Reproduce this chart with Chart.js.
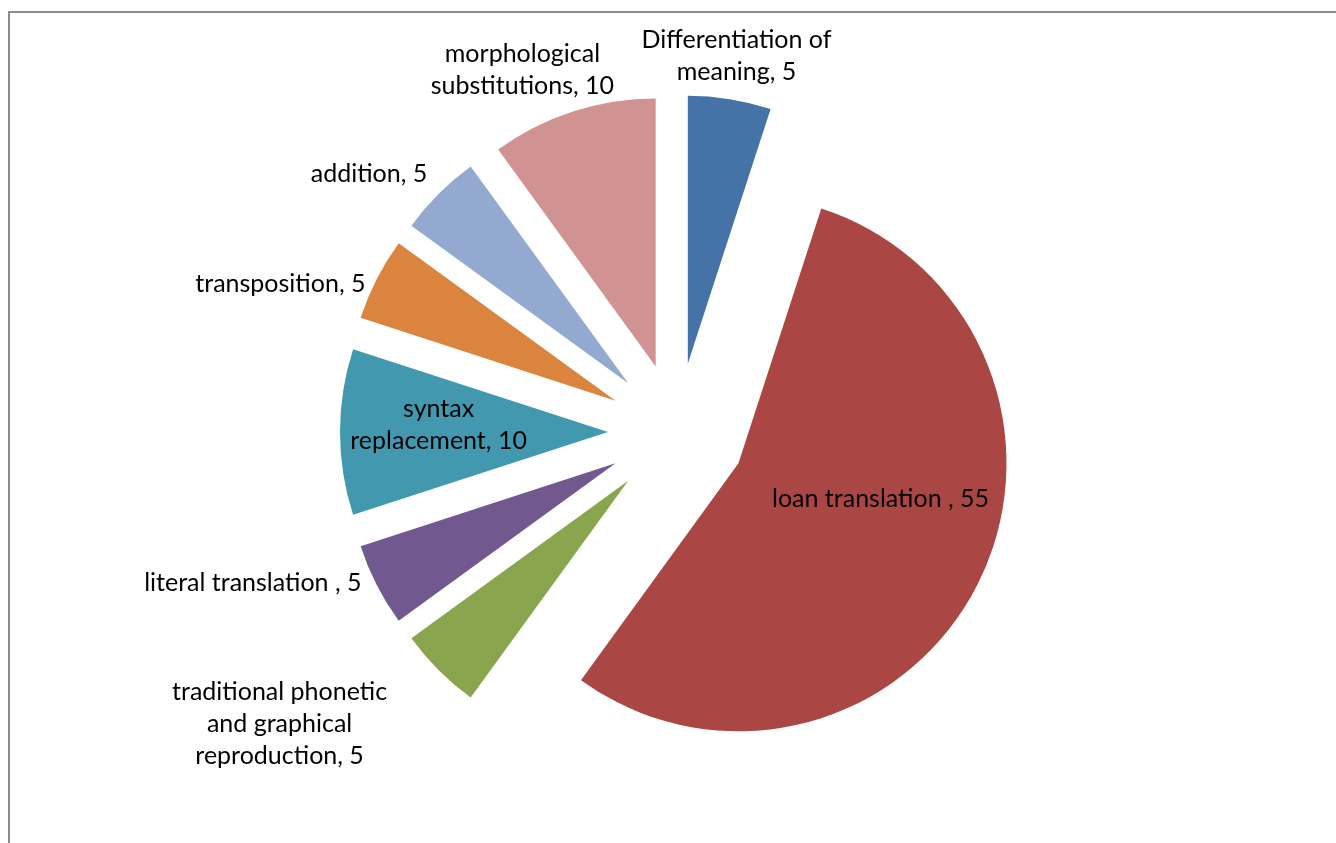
<!DOCTYPE html>
<html>
<head>
<meta charset="utf-8">
<script src="https://cdn.jsdelivr.net/npm/chart.js@4/dist/chart.umd.min.js"></script>
<style>
  html, body { margin: 0; padding: 0; background: #fff; overflow: hidden; }
  #frame { position: absolute; left: 8px; top: 11px; right: -4px; bottom: -4px;
           border-left: 2px solid #8c8c8c; border-top: 2px solid #8c8c8c; }
  #wrap { position: absolute; left: 0; top: 0; width: 1336px; height: 843px; }
</style>
</head>
<body>
<div id="frame"></div>
<div id="wrap"><canvas id="pieChart" width="1336" height="843"></canvas></div>
<script>
const categories = ['Differentiation of meaning', 'loan translation ', 'traditional phonetic and graphical reproduction',
    'literal translation ', 'syntax replacement', 'transposition', 'addition', 'morphological substitutions'];
const values = [5, 55, 5, 5, 10, 5, 5, 10];
const colors = ['#4572A7', '#AA4643', '#89A54E', '#71588F', '#4198AF', '#DB843D', '#93A9CF', '#D19392'];

// how the data labels wrap (text as shown on the chart)
const labelLines = [
    ['Differentiation of', 'meaning, 5'],
    ['loan translation , 55'],
    ['traditional phonetic', 'and graphical', 'reproduction, 5'],
    ['literal translation , 5'],
    ['syntax', 'replacement, 10'],
    ['transposition, 5'],
    ['addition, 5'],
    ['morphological', 'substitutions, 10']
];
// label placement: turn from slice bisector (deg) and distance as share of radius
const labelTurn = [0, -8.7, 8.7, 7.4, 1.7, -6.5, -5, -5.1];
const labelDist = [1.42, 0.80, 1.84, 1.68, 0.89, 1.58, 1.50, 1.47];

const pieRadius = 268;
const explode = 69;

// chart.js draws offset/4 and shrinks/grows thin slices; keep plain wedges
const keepRadius = {
    id: 'keepRadius',
    afterDatasetsUpdate(chart) {
        chart.getDatasetMeta(0).data.forEach(arc => {
            arc.outerRadius = pieRadius;
            arc.circumference = Math.PI / 2;
        });
    }
};

const sliceLabels = {
    id: 'sliceLabels',
    afterDatasetsDraw(chart) {
        const ctx = chart.ctx;
        ctx.save();
        ctx.font = '25px Lato, sans-serif';
        ctx.fillStyle = '#000';
        ctx.textAlign = 'center';
        ctx.textBaseline = 'middle';
        chart.getDatasetMeta(0).data.forEach((arc, i) => {
            const a = (arc.startAngle + arc.endAngle) / 2 + labelTurn[i] * Math.PI / 180;
            const d = pieRadius * labelDist[i];
            const x = arc.x + Math.cos(a) * d;
            const y = arc.y + Math.sin(a) * d;
            const lines = labelLines[i];
            const lh = 32;
            lines.forEach((t, k) => {
                ctx.fillText(t, x, y + (k - (lines.length - 1) / 2) * lh);
            });
        });
        ctx.restore();
    }
};

const ctx = document.getElementById('pieChart').getContext('2d');
const pieChart = new Chart(ctx, {
    type: 'pie',
    data: {
        labels: categories,
        datasets: [{
            data: values,
            backgroundColor: colors,
            borderWidth: 0,
            offset: explode * 4
        }]
    },
    options: {
        responsive: false,
        animation: false,
        events: [],
        radius: pieRadius,
        layout: { padding: { left: 18, top: 21, right: 0, bottom: 0 } },
        plugins: {
            legend: { display: false },
            tooltip: { enabled: false }
        }
    },
    plugins: [keepRadius, sliceLabels]
});
</script>
</body>
</html>
